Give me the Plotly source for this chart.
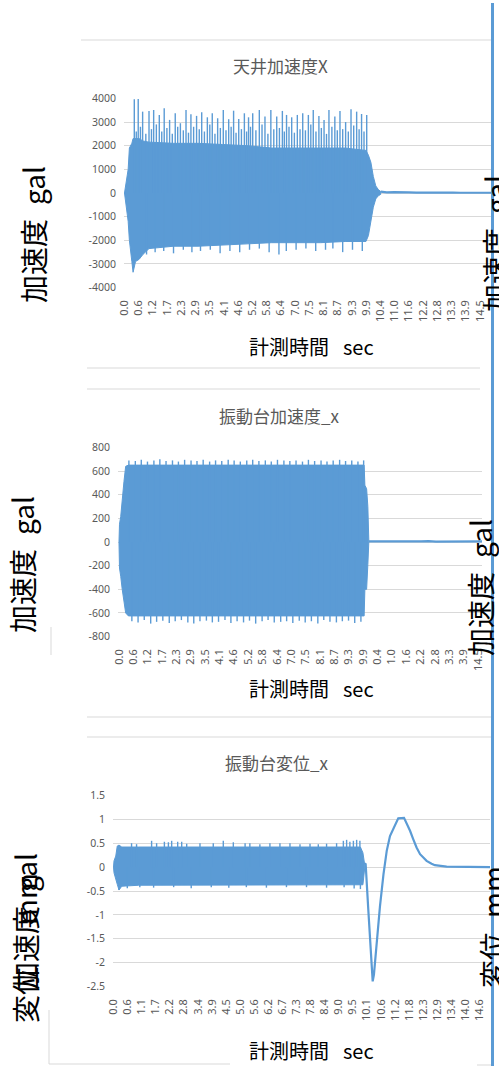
import plotly.graph_objects as go

W, H = 499, 1066
BLUE = "#5b9bd5"
GRID = "#d9d9d9"
TICK = "#595959"

# ---------------- chart 1 : 天井加速度X ----------------
c1_title = "天井加速度X"
c1_xlabels = ["0.0", "0.6", "1.2", "1.7", "2.3", "2.9", "3.5", "4.1", "4.6", "5.2", "5.8", "6.4", "7.0",
              "7.5", "8.1", "8.7", "9.3", "9.9", "10.4", "11.0", "11.6", "12.2", "12.8", "13.3", "13.9", "14.5"]
c1_ylabels = ["4000", "3000", "2000", "1000", "0", "-1000", "-2000", "-3000", "-4000"]
c1_env_t = [0.0, 0.05, 0.10, 0.15, 0.20, 0.25, 0.30, 0.35, 0.45, 0.60, 0.75, 1.0, 2.0, 3.0, 4.0, 5.0,
            6.0, 7.0, 8.0, 9.0, 9.85, 9.95, 10.05, 10.15, 10.25, 10.35, 10.45]
c1_env_hi = [0, 300, 600, 1000, 1900, 2000, 2100, 2300, 2300, 2300, 2200, 2150, 2100, 2100, 2050, 2000,
             1900, 1900, 1900, 1900, 1800, 1600, 1300, 700, 300, 150, 60]
c1_env_lo = [0, -300, -700, -1200, -2000, -2500, -2900, -3350, -2900, -2800, -2600, -2350, -2250, -2250,
             -2200, -2150, -2100, -2100, -2100, -2050, -2050, -1800, -1200, -600, -250, -120, -60]
c1_peak_t = [0.40, 0.56, 0.74, 1.00, 1.19, 1.42, 1.62, 1.84, 2.07, 2.28, 2.51, 2.71, 2.94, 3.15, 3.38,
             3.58, 3.80, 4.03, 4.25, 4.45, 4.66, 4.89, 5.06, 5.23, 5.50, 5.73, 5.97, 6.21, 6.44, 6.61,
             6.82, 7.05, 7.27, 7.50, 7.70, 7.93, 8.14, 8.34, 8.58, 8.79, 9.02, 9.24, 9.47, 9.67, 9.88]
c1_peak_v = [3960, 3970, 3440, 3470, 3510, 3300, 3580, 3090, 3370, 2950, 3510, 3330, 3260, 3410, 3200,
             3370, 3160, 3510, 3120, 3480, 3130, 3370, 3200, 3370, 3510, 3230, 3510, 3230, 3470, 3300,
             3200, 3300, 3370, 3300, 3510, 3260, 3090, 3510, 3230, 3470, 3000, 3540, 3440, 3340, 3300]
c1_mid_t = [0.48, 0.65, 0.87, 1.10, 1.30, 1.52, 1.73, 1.95, 2.17, 2.40, 2.61, 2.82, 3.05, 3.26, 3.48,
            3.69, 3.91, 4.14, 4.35, 4.55, 4.77, 4.98, 5.14, 5.36, 5.61, 5.85, 6.09, 6.32, 6.52, 6.71,
            6.93, 7.16, 7.38, 7.60, 7.81, 8.03, 8.24, 8.46, 8.68, 8.90, 9.13, 9.35, 9.57, 9.77]
c1_mid_v = [2600, 2800, 2500, 2700, 2900, 2600, 2750, 2500, 2800, 2650, 2550, 2800, 2700, 2600, 2900,
            2500, 2750, 2650, 2800, 2550, 2700, 2600, 2800, 2650, 2900, 2500, 2700, 2750, 2600, 2800,
            2550, 2700, 2650, 2900, 2600, 2750, 2500, 2800, 2650, 2700, 2600, 2850, 2700, 2600]
c1_trough_t = [0.9, 1.25, 1.6, 2.0, 2.4, 2.75, 3.1, 3.5, 3.9, 4.3, 4.7, 5.1, 5.5, 5.9, 6.3, 6.6, 7.0,
               7.4, 7.8, 8.2, 8.5, 8.9, 9.3, 9.7]
c1_trough_v = [-2600, -2500, -2450, -2550, -2400, -2500, -2450, -2400, -2550, -2450, -2500, -2400,
               -2350, -2500, -2600, -2450, -2400, -2350, -2450, -2400, -2350, -2500, -2400, -2450]
c1_tail_t = [10.45, 10.7, 11.0, 11.3, 11.6, 11.9, 12.2, 12.5, 12.8, 13.1, 13.4, 13.7, 14.0, 14.3, 14.6, 14.95]
c1_tail_y = [60, 30, 40, 20, 30, 20, 25, 15, 20, 10, 20, 10, 15, 10, 10, 10]

# ---------------- chart 2 : 振動台加速度_x ----------------
c2_title = "振動台加速度_x"
c2_xlabels = ["0.0", "0.6", "1.2", "1.7", "2.3", "2.9", "3.5", "4.1", "4.6", "5.2", "5.8", "6.4", "7.0",
              "7.5", "8.1", "8.7", "9.3", "9.9", "0.4", "1.0", "1.6", "2.2", "2.8", "3.3", "3.9", "14.5"]
c2_ylabels = ["800", "600", "400", "200", "0", "-200", "-400", "-600", "-800"]
c2_env_t = [0.0, 0.02, 0.07, 0.13, 0.20, 0.27, 0.38, 1.0, 3.0, 5.0, 7.0, 9.0, 9.90, 9.93, 10.00, 10.05, 10.09]
c2_env_hi = [0, 150, 215, 385, 510, 640, 650, 650, 650, 650, 650, 650, 650, 480, 450, 300, 10]
c2_env_lo = [0, -220, -290, -400, -515, -600, -625, -625, -625, -625, -625, -625, -625, -400, -400, -190, 5]
c2_peak_t = [0.40, 0.66, 0.90, 1.15, 1.41, 1.65, 1.90, 2.16, 2.40, 2.65, 2.91, 3.15, 3.40, 3.66, 3.90,
             4.15, 4.41, 4.65, 4.90, 5.16, 5.40, 5.65, 5.91, 6.15, 6.40, 6.66, 6.90, 7.15, 7.41, 7.65,
             7.90, 8.16, 8.40, 8.65, 8.91, 9.15, 9.40, 9.65, 9.88]
c2_peak_v = [690, 685, 695, 680, 690, 700, 685, 690, 680, 695, 690, 685, 695, 680, 690, 685, 695, 690,
             680, 690, 695, 685, 690, 680, 695, 690, 685, 690, 680, 695, 685, 690, 680, 690, 695, 685,
             690, 680, 690]
c2_trough_t = [0.52, 0.77, 1.02, 1.28, 1.52, 1.77, 2.03, 2.27, 2.52, 2.78, 3.02, 3.27, 3.53, 3.77, 4.02,
               4.28, 4.52, 4.77, 5.03, 5.27, 5.52, 5.78, 6.02, 6.27, 6.53, 6.77, 7.02, 7.28, 7.52, 7.77,
               8.03, 8.27, 8.52, 8.78, 9.02, 9.27, 9.52, 9.77]
c2_trough_v = [-670, -680, -660, -690, -675, -665, -685, -670, -660, -680, -690, -670, -665, -680, -675,
               -660, -685, -670, -680, -665, -690, -670, -660, -680, -675, -670, -685, -665, -680, -670,
               -690, -660, -675, -680, -670, -665, -685, -675]
c2_tail_t = [10.09, 10.4, 10.7, 11.0, 11.3, 11.6, 11.9, 12.2, 12.5, 12.8, 13.1, 13.4, 13.7, 14.0, 14.3, 14.66]
c2_tail_y = [5, 8, 5, 6, 4, 6, 5, 5, 8, 4, 5, 6, 4, 5, 5, 5]

# ---------------- chart 3 : 振動台変位_x ----------------
c3_title = "振動台変位_x"
c3_xlabels = ["0.0", "0.6", "1.1", "1.7", "2.2", "2.8", "3.4", "3.9", "4.5", "5.0", "5.6", "6.2", "6.7",
              "7.3", "7.8", "8.4", "9.0", "9.5", "10.1", "10.6", "11.2", "11.8", "12.3", "12.9", "13.4",
              "14.0", "14.6"]
c3_ylabels = ["1.5", "1", "0.5", "0", "-0.5", "-1", "-1.5", "-2", "-2.5"]
c3_env_t = [0.0, 0.02, 0.09, 0.15, 0.22, 0.33, 1.0, 3.0, 5.0, 7.0, 9.0, 9.85, 9.95, 10.03]
c3_env_hi = [0, 0.13, 0.23, 0.44, 0.46, 0.42, 0.42, 0.42, 0.42, 0.42, 0.42, 0.42, 0.30, 0.08]
c3_env_lo = [0, -0.12, -0.22, -0.36, -0.48, -0.40, -0.38, -0.38, -0.38, -0.38, -0.37, -0.37, -0.37, 0.02]
c3_peak_t = [0.72, 0.92, 1.52, 1.72, 2.03, 2.19, 2.32, 2.56, 2.72, 2.92, 3.45, 3.98, 4.38, 4.78, 5.25,
             5.44, 5.84, 6.24, 6.64, 7.04, 7.44, 7.84, 8.17, 8.50, 8.90, 9.17, 9.30, 9.43, 9.57, 9.70, 9.83]
c3_peak_v = [0.50, 0.48, 0.55, 0.50, 0.53, 0.52, 0.55, 0.53, 0.53, 0.49, 0.50, 0.50, 0.55, 0.52, 0.50,
             0.50, 0.48, 0.50, 0.50, 0.50, 0.48, 0.49, 0.48, 0.49, 0.50, 0.55, 0.57, 0.53, 0.55, 0.57, 0.55]
c3_trough_t = [0.22, 0.55, 1.05, 1.60, 2.40, 3.10, 3.90, 4.60, 5.30, 6.10, 6.90, 7.70, 8.50, 9.20, 9.60, 9.85]
c3_trough_v = [-0.48, -0.44, -0.42, -0.43, -0.42, -0.44, -0.42, -0.43, -0.42, -0.43, -0.42, -0.42,
               -0.43, -0.42, -0.45, -0.46]
c3_tail_t = [10.03, 10.06, 10.16, 10.26, 10.34, 10.39, 10.50, 10.63, 10.77, 10.90, 11.03, 11.19, 11.36,
             11.59, 11.69, 11.83, 11.96, 12.09, 12.23, 12.36, 12.49, 12.69, 12.82, 13.29, 14.0, 15.02]
c3_tail_y = [0.08, 0.06, -0.85, -1.76, -2.39, -2.25, -1.55, -0.82, -0.15, 0.34, 0.65, 0.83, 1.02,
             1.03, 0.93, 0.76, 0.58, 0.41, 0.27, 0.20, 0.13, 0.07, 0.04, 0.01, 0.0, 0.0]

x_title = "計測時間\u2002\u2009sec"
acc_title = "加速度\u2002gal"
disp_title = "変位\u2002mm"
disp_title_left = "変位\u3000\u2002mm"


def fx(p):
    return p / W


def fy(p):
    return 1 - p / H


fig = go.Figure()

charts = [
    dict(env_t=c1_env_t, hi=c1_env_hi, lo=c1_env_lo,
         spikes=[(c1_peak_t, c1_peak_v), (c1_mid_t, c1_mid_v), (c1_trough_t, c1_trough_v)],
         tail=(c1_tail_t, c1_tail_y), xlabels=c1_xlabels, ylabels=c1_ylabels,
         xdom=(124, 491), xrange=(-0.02, 14.95), ydom=(98, 288), yrange=(-4000, 4000)),
    dict(env_t=c2_env_t, hi=c2_env_hi, lo=c2_env_lo,
         spikes=[(c2_peak_t, c2_peak_v), (c2_trough_t, c2_trough_v)],
         tail=(c2_tail_t, c2_tail_y), xlabels=c2_xlabels, ylabels=c2_ylabels,
         xdom=(118, 482), xrange=(-0.04, 14.66), ydom=(447, 637), yrange=(-800, 800)),
    dict(env_t=c3_env_t, hi=c3_env_hi, lo=c3_env_lo,
         spikes=[(c3_peak_t, c3_peak_v), (c3_trough_t, c3_trough_v)],
         tail=(c3_tail_t, c3_tail_y), xlabels=c3_xlabels, ylabels=c3_ylabels,
         xdom=(113, 490), xrange=(-0.02, 15.02), ydom=(795, 987), yrange=(-2.5, 1.5)),
]

layout_axes = {}
for i, c in enumerate(charts, start=1):
    xa = "x" if i == 1 else f"x{i}"
    ya = "y" if i == 1 else f"y{i}"
    # dense oscillation drawn as its envelope band
    bx = list(c["env_t"]) + list(c["env_t"])[::-1]
    by = list(c["hi"]) + list(c["lo"])[::-1]
    fig.add_trace(go.Scatter(x=bx, y=by, mode="lines", fill="toself", fillcolor=BLUE,
                             line=dict(color=BLUE, width=1), xaxis=xa, yaxis=ya,
                             hoverinfo="skip", showlegend=False))
    sx, sy = [], []
    for ts, vs in c["spikes"]:
        for t, v in zip(ts, vs):
            sx += [t, t, None]
            sy += [0, v, None]
    fig.add_trace(go.Scatter(x=sx, y=sy, mode="lines", line=dict(color=BLUE, width=1.4),
                             xaxis=xa, yaxis=ya, hoverinfo="skip", showlegend=False))
    fig.add_trace(go.Scatter(x=c["tail"][0], y=c["tail"][1], mode="lines",
                             line=dict(color=BLUE, width=2.2), xaxis=xa, yaxis=ya,
                             hoverinfo="skip", showlegend=False))

    n = len(c["xlabels"])
    last = float(c["xlabels"][-1])
    tickvals = [k * last / (n - 1) for k in range(n)]
    yvals = [float(s) for s in c["ylabels"]]
    xkey = "xaxis" if i == 1 else f"xaxis{i}"
    ykey = "yaxis" if i == 1 else f"yaxis{i}"
    layout_axes[xkey] = dict(domain=[fx(c["xdom"][0]), fx(c["xdom"][1])], range=list(c["xrange"]),
                             anchor=ya, tickmode="array", tickvals=tickvals, ticktext=c["xlabels"],
                             tickangle=-90, tickfont=dict(family="Noto Sans", size=11, color=TICK),
                             showgrid=False, zeroline=False, showline=False, ticks="",
                             ticklabelstandoff=9, automargin=False, fixedrange=True)
    span = c["yrange"][1] - c["yrange"][0]
    layout_axes[ykey] = dict(domain=[fy(c["ydom"][1]), fy(c["ydom"][0])],
                             range=[c["yrange"][0] - span * 0.002, c["yrange"][1] + span * 0.002],
                             anchor=xa, tickmode="array", tickvals=yvals, ticktext=c["ylabels"],
                             tickfont=dict(family="Noto Sans", size=10.5, color=TICK),
                             showgrid=True, gridcolor=GRID, gridwidth=1, zeroline=False,
                             showline=False, ticks="", ticklabelstandoff=7, automargin=False,
                             fixedrange=True)

annotations = []


def ann(text, x, y, size, color, angle=0, family="Noto Sans CJK JP"):
    annotations.append(dict(text=text, x=fx(x), y=fy(y), xref="paper", yref="paper",
                            xanchor="center", yanchor="middle", showarrow=False, textangle=angle,
                            font=dict(family=family, size=size, color=color)))


ann(c1_title, 280, 66, 17, TICK)
ann(c2_title, 279, 415, 17, TICK)
ann(c3_title, 277, 762, 17, TICK)
for yy in (346, 688, 1050):
    ann(x_title, 311, yy, 20, "#000000")
ann(acc_title, 33, 235, 28, "#000000", -90)
ann(acc_title, 22, 565, 28, "#000000", -90)
ann(disp_title_left, 25, 948, 28, "#000000", -90)
ann(acc_title, 25, 922, 28, "#000000", -90)
ann(acc_title, 495, 244, 28, "#000000", -90)
ann(acc_title, 480, 588, 28, "#000000", -90)
ann(disp_title, 492, 927, 28, "#000000", -90)

shapes = []


def seg(x0, y0, x1, y1, color=GRID, width=1):
    shapes.append(dict(type="line", xref="paper", yref="paper", x0=fx(x0), y0=fy(y0),
                       x1=fx(x1), y1=fy(y1), line=dict(color=color, width=width)))


seg(81, 40, 491, 40)
seg(87, 368, 480, 368)
seg(87, 389, 480, 389)
seg(87, 717, 491, 717)
seg(87, 737, 491, 737)
seg(51, 627, 51, 655)
seg(49, 1010, 49, 1064)
seg(49, 1064, 230, 1064)
seg(477, 1065, 491, 1065)
seg(492.5, 3, 492.5, 1066, BLUE, 3)

fig.update_layout(width=W, height=H, margin=dict(l=0, r=0, t=0, b=0),
                  paper_bgcolor="white", plot_bgcolor="white", showlegend=False,
                  annotations=annotations, shapes=shapes, **layout_axes)

fig.write_html("out.html", config={"displayModeBar": False})
